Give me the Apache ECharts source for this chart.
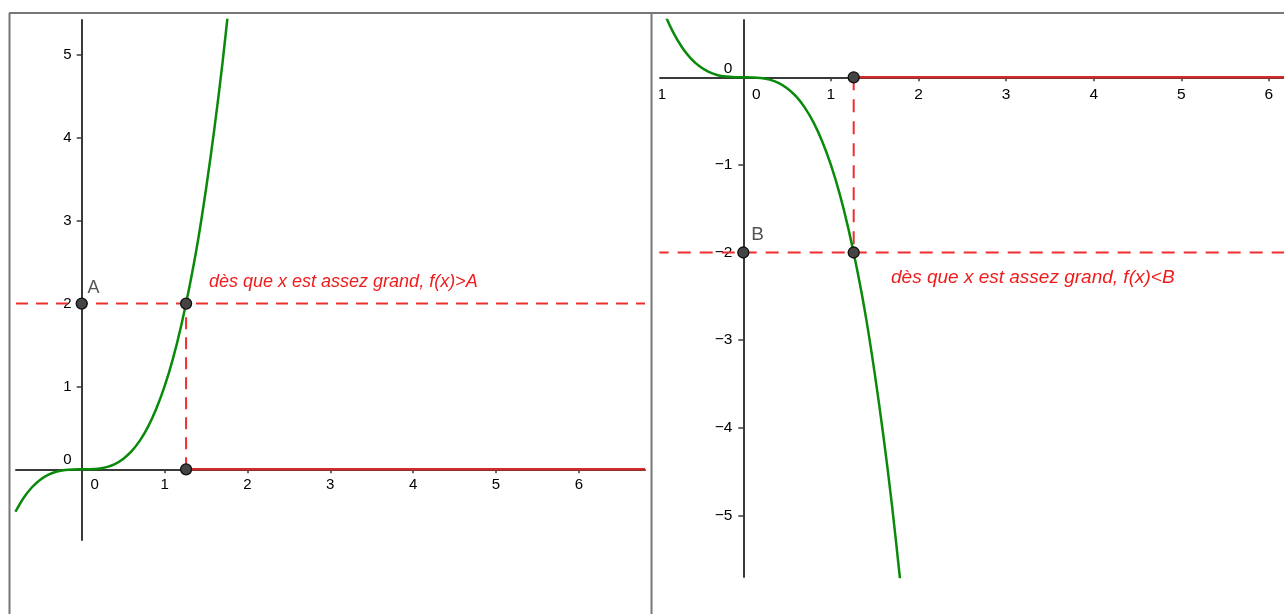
<!DOCTYPE html>
<html><head><meta charset="utf-8">
<script src="https://cdn.jsdelivr.net/npm/echarts@6/dist/echarts.min.js"></script>
<style>html,body{margin:0;padding:0;background:#fff}#c{width:1284px;height:614px}</style>
</head><body><div id="c"></div>
<script>
// ---- data ----
// left panel: increasing curve
const leftCurve = [[-0.8,-0.512],[-0.7,-0.343],[-0.6,-0.216],[-0.5,-0.125],[-0.4,-0.064],[-0.3,-0.027],[-0.2,-0.008],[-0.1,-0.001],[0,0],[0.1,0.001],[0.2,0.008],[0.3,0.027],[0.4,0.064],[0.5,0.125],[0.6,0.216],[0.7,0.343],[0.8,0.512],[0.9,0.73],[1.0,1.0],[1.1,1.33],[1.2,1.73],[1.3,2.2],[1.4,2.74],[1.5,3.38],[1.6,4.1],[1.7,4.91],[1.8,5.83]];
// right panel: decreasing curve
const rightCurve = [[-1.0,1.0],[-0.9,0.73],[-0.8,0.512],[-0.7,0.343],[-0.6,0.216],[-0.5,0.125],[-0.4,0.064],[-0.3,0.027],[-0.2,0.008],[-0.1,0.001],[0,0],[0.1,-0.001],[0.2,-0.008],[0.3,-0.027],[0.4,-0.064],[0.5,-0.125],[0.6,-0.216],[0.7,-0.343],[0.8,-0.512],[0.9,-0.73],[1.0,-1.0],[1.1,-1.33],[1.2,-1.73],[1.3,-2.2],[1.4,-2.74],[1.5,-3.38],[1.6,-4.1],[1.7,-4.91],[1.8,-5.83]];
const thresholdX = 1.26;
const levelA = 2;
const levelB = -2;
const labelA = 'A';
const labelB = 'B';
const textLeft = 'dès que x est assez grand, f(x)>A';
const textRight = 'dès que x est assez grand, f(x)<B';
// tick labels
const leftXLabels = [0,1,2,3,4,5,6];
const leftXTicks = [1,2,3,4,5,6];
const leftYLabels = [0,1,2,3,4,5];
const leftYTicks = [1,2,3,4,5];
const rightXLabels = [-1,0,1,2,3,4,5,6];
const rightXTicks = [1,2,3,4,5,6];
const rightYLabels = [-5,-4,-3,-2,-1,0];
const rightYTicks = [-5,-4,-3,-2,-1];

// ---- view windows ----
const L = {xmin:-0.793, xmax:6.799, ymin:-0.853, ymax:5.423, left:16, top:20, width:629, height:520};
const R = {xmin:-1, xmax:6.172, ymin:-5.704, ymax:0.654, left:655.7, top:20, width:628.3, height:557};

const FONT = '"Liberation Sans", Arial, sans-serif';
const AXIS = '#3a3a3a';
const GREEN = '#0a8a0a';
const RED_D = '#ee2e2e';
const RED_S = '#d02a2a';
const fmt = v => (v < 0 ? '\u2212' + Math.abs(v) : String(v));

// offsets that place each axis on the other axis's zero
const xOffset = r => -(r.height * (-r.ymin) / (r.ymax - r.ymin));
const yOffset = r => -(r.width * (-r.xmin) / (r.xmax - r.xmin));

function xAxisCfg(gi, r, fs, labels, ticks, zshift, margin) {
  return {
    type:'value', gridIndex: gi, min: r.xmin, max: r.xmax, position: 'bottom', offset: xOffset(r),
    axisLine: {onZero: false, lineStyle: {color: AXIS, width: 2}},
    axisTick: {show: true, length: 4, customValues: ticks, lineStyle: {color: AXIS, width: 1.5}},
    axisLabel: {customValues: labels, margin: margin, fontSize: fs, color: '#000', fontFamily: FONT,
      formatter: v => v === 0 ? '{z|0}' : (v === -1 ? '{m|' + fmt(v) + '}' : fmt(v)),
      rich: {z: {padding: [0,0,0,2*zshift], fontSize: fs, fontFamily: FONT, color: '#000'},
             m: {padding: [0,0,0,3], fontSize: fs, fontFamily: FONT, color: '#000'}}},
    splitLine: {show: false}
  };
}
function yAxisCfg(gi, r, fs, labels, ticks, zshift, margin) {
  return {
    type:'value', gridIndex: gi, min: r.ymin, max: r.ymax, position: 'left', offset: yOffset(r),
    axisLine: {onZero: false, lineStyle: {color: AXIS, width: 2}},
    axisTick: {show: true, length: 5, customValues: ticks, lineStyle: {color: AXIS, width: 1.5}},
    axisLabel: {customValues: labels, margin: margin, fontSize: fs, color: '#000', fontFamily: FONT,
      formatter: v => v === 0 ? '{z|0}' : fmt(v),
      rich: {z: {padding: [0,0,2*zshift,0], fontSize: fs, fontFamily: FONT, color: '#000'}}},
    splitLine: {show: false}
  };
}

function panelSeries(gi, r, curve, level, tx, lbl, lblSize, lblPos, dash) {
  const ax = {xAxisIndex: gi, yAxisIndex: gi};
  return [
    Object.assign({type:'line', data: curve, smooth: 0.3, showSymbol: false, symbol: 'none',
      lineStyle: {color: GREEN, width: 2.5}, z: 3, silent: true, animation: false}, ax),
    Object.assign({type:'line', data: [[r.xmin, level],[r.xmax, level]], symbol: 'none',
      lineStyle: {color: RED_D, width: 2, type: dash}, z: 2, animation: false}, ax),
    Object.assign({type:'line', data: [[tx, 0],[tx, level]], symbol: 'none',
      lineStyle: {color: RED_D, width: 2, type: dash}, z: 2, animation: false}, ax),
    Object.assign({type:'line', data: [[tx, 0],[r.xmax, 0]], symbol: 'none',
      lineStyle: {color: RED_S, width: 2.5}, z: 2, animation: false}, ax),
    Object.assign({type:'scatter', symbolSize: 11, z: 5, animation: false,
      itemStyle: {color: '#444', borderColor: '#111', borderWidth: 1.3, opacity: 1},
      data: [
        {value: [0, level], label: {show: true, formatter: lbl, position: lblPos, align: 'left', verticalAlign: 'middle',
          fontSize: lblSize, fontFamily: FONT, color: '#555'}},
        {value: [tx, level]},
        {value: [tx, 0]}
      ]}, ax)
  ];
}

const chart = echarts.init(document.getElementById('c'), null, {renderer: 'canvas'});
chart.setOption({
  animation: false,
  backgroundColor: '#fff',
  grid: [
    {left: L.left, top: L.top, width: L.width, height: L.height, containLabel: false, outerBoundsMode: 'none'},
    {left: R.left, top: R.top, width: R.width, height: R.height, containLabel: false, outerBoundsMode: 'none'}
  ],
  xAxis: [
    xAxisCfg(0, L, 15, leftXLabels, leftXTicks, 13, 8),
    xAxisCfg(1, R, 15.5, rightXLabels, rightXTicks, 13, 9)
  ],
  yAxis: [
    yAxisCfg(0, L, 15, leftYLabels, leftYTicks, 9, 10),
    yAxisCfg(1, R, 15.5, rightYLabels, rightYTicks, 9, 11)
  ],
  series: [].concat(
    panelSeries(0, L, leftCurve, levelA, thresholdX, labelA, 18, [12, -9.5], [12, 8]),
    panelSeries(1, R, rightCurve, levelB, thresholdX, labelB, 19, [14, -12], [13, 9])
  ),
  graphic: [
    {type: 'rect', z: 90, shape: {x: 646, y: 14, width: 13.3, height: 600}, style: {fill: '#fff'}},
    {type: 'text', z: 95, x: 209, y: 281.5, style: {text: textLeft, fill: '#ee1c1c', fontSize: 18, fontStyle: 'italic', fontFamily: FONT, align: 'left', verticalAlign: 'middle'}},
    {type: 'text', z: 95, x: 891, y: 278, style: {text: textRight, fill: '#ee1c1c', fontSize: 19, fontStyle: 'italic', fontFamily: FONT, align: 'left', verticalAlign: 'middle'}},
    {type: 'line', z: 100, shape: {x1: 9, y1: 13, x2: 1284, y2: 13}, style: {stroke: '#777', lineWidth: 2}},
    {type: 'line', z: 100, shape: {x1: 9.5, y1: 13, x2: 9.5, y2: 614}, style: {stroke: '#777', lineWidth: 2}},
    {type: 'line', z: 100, shape: {x1: 651.5, y1: 13, x2: 651.5, y2: 614}, style: {stroke: '#777', lineWidth: 2}}
  ]
});
</script>
</body></html>
